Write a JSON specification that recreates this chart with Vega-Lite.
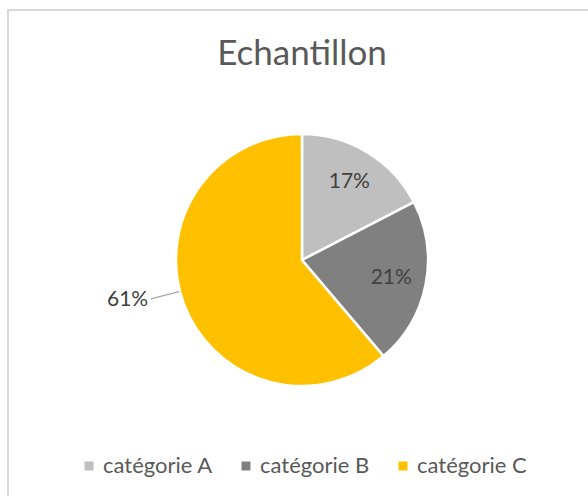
{
  "$schema": "https://vega.github.io/schema/vega-lite/v6.json",
  "width": 572,
  "height": 472,
  "autosize": "none",
  "padding": {"left": 16, "top": 24, "right": 0, "bottom": 0},
  "background": "white",
  "title": {
    "text": "Echantillon",
    "font": "Lato",
    "fontSize": 35,
    "fontWeight": "normal",
    "color": "#595959",
    "anchor": "middle",
    "baseline": "alphabetic",
    "offset": -91
  },
  "data": {
    "values": [
      {"categorie": "catégorie A", "part": 0.174},
      {"categorie": "catégorie B", "part": 0.214},
      {"categorie": "catégorie C", "part": 0.612}
    ]
  },
  "transform": [
    {"stack": "part", "groupby": [], "sort": [{"field": "categorie", "order": "ascending"}], "as": ["debut", "fin"]},
    {"calculate": "(datum.debut + datum.fin) / 2", "as": "milieu"}
  ],
  "layer": [
    {
      "mark": {"type": "rect", "fill": "transparent", "stroke": "#D9D9D9", "strokeWidth": 1.5},
      "encoding": {
        "x": {"value": -8},
        "y": {"value": -14},
        "x2": {"value": 600},
        "y2": {"value": 500}
      }
    },
    {
      "mark": {"type": "arc", "outerRadius": 126, "stroke": "white", "strokeWidth": 2.5},
      "encoding": {
        "theta": {"field": "debut", "type": "quantitative", "scale": {"domain": [0, 1]}},
        "theta2": {"field": "fin"},
        "color": {
          "field": "categorie",
          "type": "nominal",
          "scale": {"domain": ["catégorie A", "catégorie B", "catégorie C"], "range": ["#BFBFBF", "#808080", "#FFC000"]},
          "legend": {
            "title": null,
            "orient": "none",
            "direction": "horizontal",
            "legendX": 62,
            "legendY": 431,
            "symbolType": "square",
            "symbolSize": 81,
            "symbolStrokeWidth": 0,
            "symbolOpacity": 1,
            "labelFont": "Lato",
            "labelFontSize": 22,
            "labelColor": "#595959",
            "labelOffset": 3,
            "columnPadding": 22,
            "padding": 0
          }
        }
      }
    },
    {
      "transform": [{"filter": "datum.categorie == 'catégorie C'"}],
      "mark": {"type": "arc", "innerRadius": 127, "outerRadius": 156, "thetaOffset": 0.1, "theta2Offset": 0.1, "fill": null, "stroke": "#A6A6A6", "strokeWidth": 1.2},
      "encoding": {
        "theta": {"field": "milieu", "type": "quantitative", "scale": {"domain": [0, 1]}},
        "theta2": {"field": "milieu"}
      }
    },
    {
      "transform": [{"filter": "datum.categorie != 'catégorie C'"}],
      "mark": {"type": "text", "radius": 91, "font": "Lato", "fontSize": 21, "color": "#404040"},
      "encoding": {
        "theta": {"field": "milieu", "type": "quantitative", "scale": {"domain": [0, 1]}},
        "text": {"field": "part", "type": "quantitative", "format": ".0%"}
      }
    },
    {
      "transform": [{"filter": "datum.categorie == 'catégorie C'"}],
      "mark": {"type": "text", "radius": 150, "font": "Lato", "fontSize": 21, "color": "#404040", "align": "right", "dx": -13, "dy": -12},
      "encoding": {
        "theta": {"field": "milieu", "type": "quantitative", "scale": {"domain": [0, 1]}},
        "text": {"field": "part", "type": "quantitative", "format": ".0%"}
      }
    }
  ],
  "config": {
    "view": {"stroke": null}
  }
}
